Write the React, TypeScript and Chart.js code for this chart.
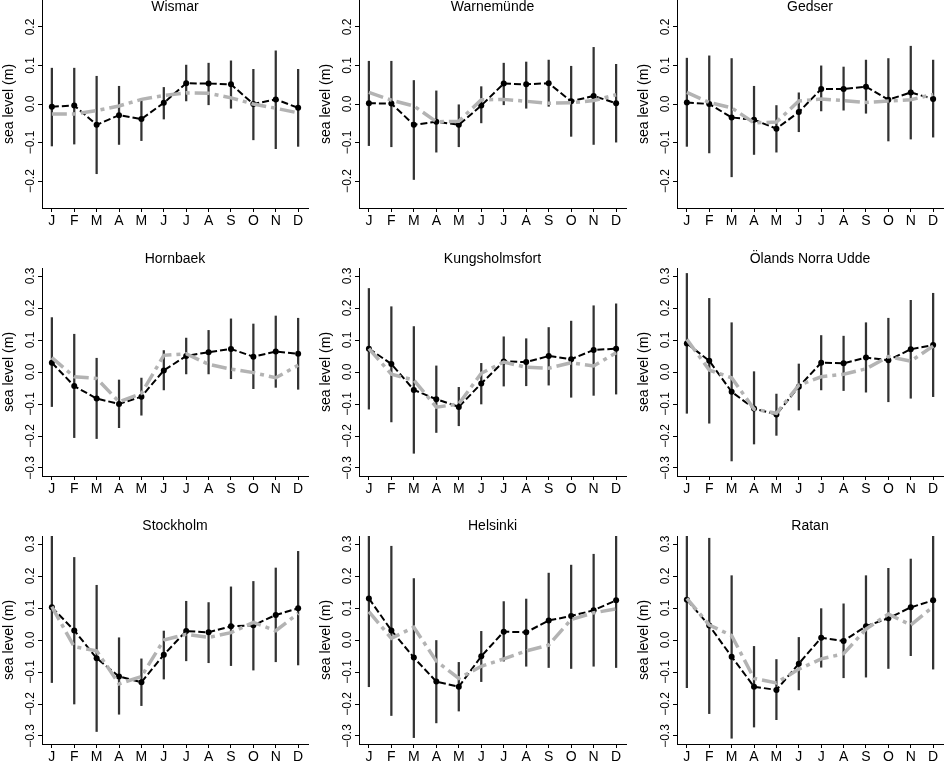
import { useEffect, useRef } from "react"
import { Chart, registerables } from "chart.js"

Chart.register(...registerables)

const FONT = "'Liberation Sans', Arial, Helvetica, sans-serif"

const MONTHS = ["J", "F", "M", "A", "M", "J", "J", "A", "S", "O", "N", "D"]

const STATIONS = [
  "Wismar", "Warnemünde", "Gedser",
  "Hornbaek", "Kungsholmsfort", "Ölands Norra Udde",
  "Stockholm", "Helsinki", "Ratan",
]

// observed monthly mean (black)
const OBSERVED = [
  [-0.007, -0.004, -0.054, -0.029, -0.039, 0.003, 0.054, 0.053, 0.051, 0.0, 0.012, -0.01],
  [0.002, 0.001, -0.054, -0.046, -0.054, -0.004, 0.053, 0.051, 0.054, 0.007, 0.021, 0.002],
  [0.004, 0.0, -0.035, -0.041, -0.064, -0.021, 0.039, 0.039, 0.045, 0.011, 0.03, 0.013],
  [0.029, -0.044, -0.083, -0.1, -0.077, 0.005, 0.05, 0.062, 0.072, 0.048, 0.064, 0.057],
  [0.073, 0.025, -0.056, -0.085, -0.109, -0.036, 0.033, 0.031, 0.05, 0.04, 0.069, 0.073],
  [0.089, 0.035, -0.062, -0.114, -0.133, -0.046, 0.029, 0.027, 0.045, 0.037, 0.071, 0.084],
  [0.102, 0.03, -0.057, -0.114, -0.132, -0.046, 0.028, 0.024, 0.043, 0.046, 0.078, 0.099],
  [0.13, 0.03, -0.055, -0.13, -0.146, -0.051, 0.026, 0.024, 0.061, 0.075, 0.093, 0.124],
  [0.126, 0.045, -0.052, -0.146, -0.156, -0.074, 0.007, -0.003, 0.043, 0.068, 0.102, 0.124],
]

// error bar ends
const UPPER = [
  [0.093, 0.093, 0.072, 0.046, 0.008, 0.043, 0.101, 0.106, 0.112, 0.09, 0.138, 0.09],
  [0.111, 0.111, 0.061, 0.034, -0.002, 0.045, 0.106, 0.109, 0.114, 0.098, 0.147, 0.103],
  [0.119, 0.125, 0.118, 0.046, -0.004, 0.029, 0.099, 0.096, 0.114, 0.118, 0.15, 0.114],
  [0.17, 0.118, 0.043, -0.025, -0.019, 0.067, 0.106, 0.13, 0.166, 0.15, 0.175, 0.168],
  [0.261, 0.204, 0.142, 0.019, -0.048, 0.027, 0.11, 0.104, 0.139, 0.159, 0.207, 0.213],
  [0.308, 0.23, 0.154, 0.001, -0.069, 0.025, 0.114, 0.112, 0.154, 0.168, 0.224, 0.246],
  [0.36, 0.258, 0.171, 0.007, -0.059, 0.028, 0.121, 0.117, 0.166, 0.183, 0.225, 0.277],
  [0.37, 0.293, 0.192, 0.0, -0.07, 0.027, 0.12, 0.128, 0.209, 0.234, 0.268, 0.36],
  [0.37, 0.318, 0.201, -0.02, -0.061, 0.008, 0.098, 0.113, 0.201, 0.224, 0.253, 0.36],
]

const LOWER = [
  [-0.109, -0.104, -0.181, -0.105, -0.095, -0.039, 0.008, -0.002, -0.011, -0.093, -0.116, -0.11],
  [-0.108, -0.111, -0.196, -0.125, -0.111, -0.049, -0.002, -0.011, -0.006, -0.084, -0.105, -0.099],
  [-0.11, -0.127, -0.189, -0.131, -0.125, -0.072, -0.018, -0.016, -0.024, -0.096, -0.091, -0.086],
  [-0.108, -0.205, -0.208, -0.174, -0.135, -0.056, -0.006, -0.006, -0.021, -0.052, -0.048, -0.054],
  [-0.116, -0.156, -0.254, -0.189, -0.168, -0.1, -0.044, -0.043, -0.041, -0.079, -0.073, -0.069],
  [-0.129, -0.16, -0.278, -0.225, -0.198, -0.119, -0.056, -0.058, -0.063, -0.093, -0.082, -0.077],
  [-0.133, -0.2, -0.286, -0.232, -0.205, -0.122, -0.065, -0.071, -0.08, -0.094, -0.068, -0.078],
  [-0.146, -0.236, -0.305, -0.259, -0.222, -0.13, -0.066, -0.082, -0.086, -0.089, -0.082, -0.086],
  [-0.149, -0.23, -0.307, -0.272, -0.249, -0.156, -0.085, -0.118, -0.116, -0.089, -0.049, -0.091],
]

// model (grey dash-dot)
const MODEL = [
  [-0.026, -0.026, -0.017, -0.005, 0.012, 0.022, 0.029, 0.028, 0.016, 0.0, -0.011, -0.023],
  [0.03, 0.01, -0.005, -0.046, -0.045, 0.011, 0.012, 0.007, 0.002, 0.003, 0.009, 0.024],
  [0.03, 0.004, -0.01, -0.049, -0.047, 0.008, 0.013, 0.009, 0.004, 0.008, 0.011, 0.025],
  [0.045, -0.015, -0.02, -0.093, -0.067, 0.052, 0.057, 0.024, 0.009, -0.002, -0.018, 0.021],
  [0.073, -0.007, -0.025, -0.11, -0.1, -0.004, 0.031, 0.015, 0.012, 0.029, 0.019, 0.06],
  [0.102, 0.006, -0.018, -0.116, -0.129, -0.041, -0.015, -0.007, 0.01, 0.048, 0.034, 0.081],
  [0.104, -0.021, -0.034, -0.137, -0.114, 0.0, 0.018, 0.008, 0.023, 0.055, 0.029, 0.083],
  [0.089, 0.005, 0.04, -0.066, -0.12, -0.082, -0.059, -0.034, -0.016, 0.064, 0.085, 0.097],
  [0.13, 0.047, 0.014, -0.12, -0.134, -0.091, -0.059, -0.043, 0.034, 0.081, 0.047, 0.104],
]

const ROW_LIMIT = [0.27, 0.325, 0.325]
const ROW_TICKS = [
  [-0.2, -0.1, 0, 0.1, 0.2],
  [-0.3, -0.2, -0.1, 0, 0.1, 0.2, 0.3],
  [-0.3, -0.2, -0.1, 0, 0.1, 0.2, 0.3],
]
const TITLE_OFFSET = [7, -9, -10]

// plot area placement on the page
const COL_X = [[42, 308], [359, 626], [677, 943]]
const ROW_Y = [0, 268, 536]
const PLOT_H = 208
const PAD_TOP = 30
const PAD_RIGHT = 9
const CANVAS_H = 270

const fmt = (v: number) => v.toFixed(1).replace("-", "\u2212")

function Panel({ index }: { index: number }) {
  const canvasRef = useRef<HTMLCanvasElement>(null)
  const chartRef = useRef<Chart | null>(null)
  const row = Math.floor(index / 3)
  const col = index % 3
  const [x0, x1] = COL_X[col]
  const width = x1 - x0 + 42 + PAD_RIGHT

  useEffect(() => {
    if (!canvasRef.current) return
    if (chartRef.current) chartRef.current.destroy()

    const lim = ROW_LIMIT[row]
    const ticks = ROW_TICKS[row]

    // title, rotated y tick labels and y axis title, R style
    const panelText = {
      id: "panelText",
      afterDraw(chart: Chart) {
        const { ctx, chartArea } = chart
        const yScale = chart.scales.y
        ctx.save()
        ctx.fillStyle = "#000"
        ctx.textAlign = "center"
        ctx.textBaseline = "middle"
        ctx.font = `14px ${FONT}`
        ctx.fillText(STATIONS[index], (chartArea.left + chartArea.right) / 2, chartArea.top + TITLE_OFFSET[row])

        ctx.font = `12px ${FONT}`
        ticks.forEach((v) => {
          ctx.save()
          ctx.translate(chartArea.left - 11, yScale.getPixelForValue(v))
          ctx.rotate(-Math.PI / 2)
          ctx.fillText(fmt(v), 0, 0)
          ctx.restore()
        })

        ctx.font = `14px ${FONT}`
        ctx.save()
        ctx.translate(chartArea.left - 33, (chartArea.top + chartArea.bottom) / 2)
        ctx.rotate(-Math.PI / 2)
        ctx.fillText("sea level (m)", 0, 0)
        ctx.restore()
        ctx.restore()
      },
    }

    chartRef.current = new Chart(canvasRef.current, {
      type: "line",
      data: {
        datasets: [
          {
            type: "line",
            data: MODEL[index].map((y, i) => ({ x: i, y })),
            borderColor: "#b3b3b3",
            borderWidth: 3.5,
            borderDash: [15, 5, 4, 5],
            pointRadius: 0,
            tension: 0,
            order: 0,
          },
          {
            type: "line",
            data: OBSERVED[index].map((y, i) => ({ x: i, y })),
            borderColor: "#000",
            borderWidth: 2,
            borderDash: [7, 3],
            pointRadius: 3,
            pointBackgroundColor: "#000",
            pointBorderWidth: 0,
            tension: 0,
            order: 1,
          },
          {
            type: "bar",
            data: LOWER[index].map((lo, i) => ({ x: i, y: [lo, UPPER[index][i]] })),
            backgroundColor: "#333",
            barThickness: 1.6,
            clip: 0,
            order: 2,
          } as any,
        ],
      },
      options: {
        animation: false,
        responsive: false,
        events: [],
        layout: { padding: { left: 2, right: PAD_RIGHT, top: PAD_TOP, bottom: CANVAS_H - PAD_TOP - PLOT_H - 30 } },
        plugins: { legend: { display: false }, tooltip: { enabled: false } },
        scales: {
          x: {
            type: "linear",
            min: -0.44,
            max: 11.44,
            offset: false,
            afterBuildTicks: (s: any) => {
              s.ticks = MONTHS.map((_, i) => ({ value: i }))
            },
            afterFit: (s: any) => {
              s.height = 30
            },
            grid: { drawOnChartArea: false, drawTicks: true, tickLength: 4, color: "#000", offset: false },
            border: { display: true, color: "#000", width: 1 },
            ticks: {
              autoSkip: false,
              maxRotation: 0,
              padding: 1,
              color: "#000",
              font: { family: FONT, size: 14 },
              callback: (v: any) => MONTHS[v as number] ?? "",
            },
          },
          y: {
            type: "linear",
            min: -lim,
            max: lim,
            afterBuildTicks: (s: any) => {
              s.ticks = ticks.map((value) => ({ value }))
            },
            afterFit: (s: any) => {
              s.width = 40
            },
            grid: { drawOnChartArea: false, drawTicks: true, tickLength: 4, color: "#000" },
            border: { display: true, color: "#000", width: 1 },
            ticks: { display: false },
          },
        },
      },
      plugins: [panelText],
    })

    return () => {
      if (chartRef.current) {
        chartRef.current.destroy()
        chartRef.current = null
      }
    }
  }, [index, row])

  return (
    <canvas
      ref={canvasRef}
      width={width}
      height={CANVAS_H}
      style={{
        position: "absolute",
        left: x0 - 42,
        top: ROW_Y[row] - PAD_TOP,
        width,
        height: CANVAS_H,
      }}
    />
  )
}

export default function App() {
  return (
    <div
      style={{
        position: "absolute",
        left: 0,
        top: 0,
        width: 946,
        height: 764,
        overflow: "hidden",
        background: "#fff",
      }}
    >
      {STATIONS.map((_, i) => (
        <Panel key={i} index={i} />
      ))}
    </div>
  )
}
